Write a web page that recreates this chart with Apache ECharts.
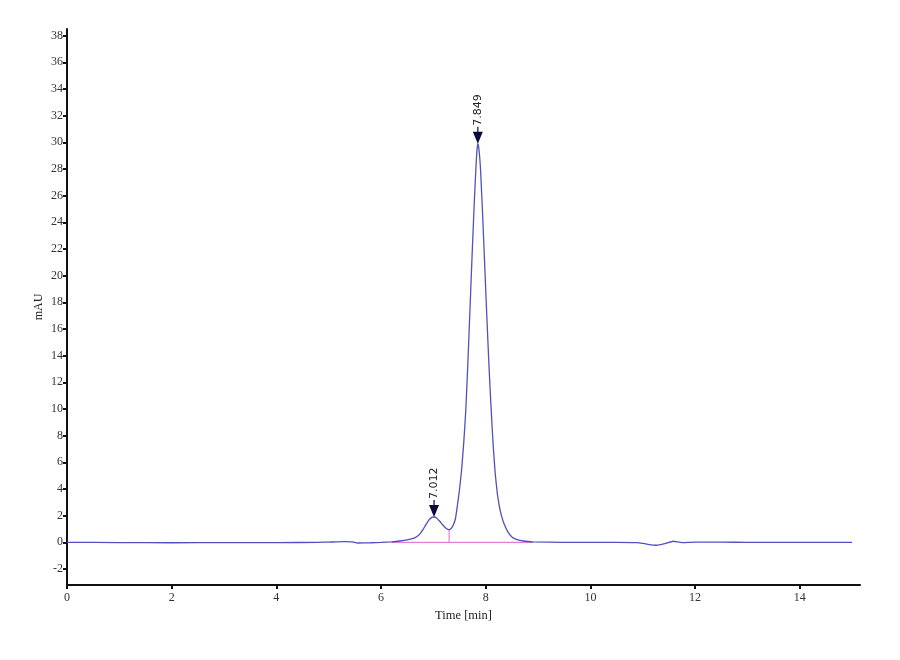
<!DOCTYPE html>
<html>
<head>
<meta charset="utf-8">
<script src="https://cdn.jsdelivr.net/npm/echarts@6/dist/echarts.min.js"></script>
<style>
  html, body { margin: 0; padding: 0; background: #fff; }
  #chart { width: 900px; height: 660px; }
</style>
</head>
<body>
<div id="chart"></div>
<script>
// chromatogram
var times = [0, 1, 2, 3, 4, 4.8, 5.0, 5.3, 5.45, 5.55, 5.8, 6.0, 6.2, 6.36, 6.5, 6.6,
    6.68, 6.74, 6.8, 6.86, 6.92, 6.97, 7.012, 7.06, 7.12, 7.18, 7.24, 7.30,
    7.34, 7.38, 7.42, 7.46, 7.50, 7.54, 7.58, 7.62, 7.66, 7.70, 7.74, 7.78, 7.81, 7.83,
    7.849, 7.87, 7.90, 7.94, 7.98, 8.02, 8.06, 8.10, 8.14, 8.18, 8.22, 8.26, 8.30,
    8.35, 8.42, 8.50, 8.60, 8.72, 8.9, 9.5,
    10, 10.5, 10.9, 11.0, 11.1, 11.26, 11.42, 11.58, 11.75, 12.0, 12.5, 13, 14, 15];
var signal = [0, -0.02, -0.03, -0.02, -0.02, 0, 0.02, 0.05, 0.03, -0.05, -0.03, 0, 0.04, 0.1, 0.18, 0.27,
    0.42, 0.62, 0.95, 1.35, 1.7, 1.87, 1.9, 1.82, 1.58, 1.3, 1.06, 0.95,
    1.05, 1.3, 1.75, 2.8, 4.0, 5.5, 7.5, 10.0, 13.6, 17.6, 21.6, 25.4, 27.9, 29.3,
    29.9, 29.5, 28.0, 24.6, 20.8, 17.0, 13.4, 10.2, 7.4, 5.2, 3.7, 2.7, 2.0,
    1.4, 0.8, 0.4, 0.2, 0.1, 0.04, 0,
    0, 0, -0.02, -0.08, -0.15, -0.22, -0.1, 0.08, -0.02, 0.02, 0.01, 0, -0.01, -0.01];

// integration baseline and drop line
var baseTimes = [6.2, 8.9];
var baseValues = [0, 0];
var dropTimes = [7.30, 7.30];
var dropValues = [0, 0.95];

// peak marks
var peakTimes = [7.012, 7.849];
var peakHeights = [1.9, 29.9];
var peakLabels = ['7.012', '7.849'];

var xTicks = [0, 2, 4, 6, 8, 10, 12, 14];
var yTicks = [-2, 0, 2, 4, 6, 8, 10, 12, 14, 16, 18, 20, 22, 24, 26, 28, 30, 32, 34, 36, 38];

function pairs(xs, ys) {
    var out = [];
    for (var i = 0; i < xs.length; i++) {
        out.push([xs[i], ys[i]]);
    }
    return out;
}

var peakMarks = [];
for (var i = 0; i < peakTimes.length; i++) {
    peakMarks.push({ coord: [peakTimes[i], peakHeights[i]], value: peakLabels[i] });
}

var serif = 'Liberation Serif';
var chart = echarts.init(document.getElementById('chart'));

var option = {
    backgroundColor: '#fff',
    animation: false,
    grid: { left: 67, right: 40, top: 29, bottom: 75 },
    xAxis: {
        type: 'value',
        min: 0,
        max: 15.15,
        name: 'Time [min]',
        nameLocation: 'middle',
        nameGap: 22,
        nameTextStyle: { fontFamily: serif, fontSize: 12.5, color: '#222' },
        axisLine: { onZero: false, lineStyle: { color: '#111', width: 2 } },
        axisTick: { customValues: xTicks, length: 4, lineStyle: { color: '#111', width: 2 } },
        axisLabel: { customValues: xTicks, fontFamily: serif, fontSize: 12, color: '#333', margin: 7 },
        splitLine: { show: false }
    },
    yAxis: {
        type: 'value',
        min: -3.2,
        max: 38.5,
        name: 'mAU',
        nameLocation: 'middle',
        nameGap: 22,
        nameMoveOverlap: false,
        nameTextStyle: { fontFamily: serif, fontSize: 12, color: '#222' },
        axisLine: { show: true, onZero: false, lineStyle: { color: '#111', width: 2 } },
        axisTick: { show: true, customValues: yTicks, length: 4, lineStyle: { color: '#111', width: 2 } },
        axisLabel: { customValues: yTicks, fontFamily: serif, fontSize: 12, color: '#333', margin: 4 },
        splitLine: { show: false }
    },
    series: [
        {
            name: 'baseline',
            type: 'line',
            data: pairs(baseTimes, baseValues),
            showSymbol: false,
            lineStyle: { color: '#e080d4', width: 1.2 },
            z: 1
        },
        {
            name: 'drop',
            type: 'line',
            data: pairs(dropTimes, dropValues),
            showSymbol: false,
            lineStyle: { color: '#e080d4', width: 1.2 },
            z: 1
        },
        {
            name: 'signal',
            type: 'line',
            data: pairs(times, signal),
            smooth: 0.15,
            showSymbol: false,
            lineStyle: { color: '#5050c2', width: 1.3 },
            z: 3,
            markPoint: {
                symbol: 'path://M4.4,0 L5.6,0 L5.6,5 L10,5 L5,17 L0,5 L4.4,5 Z',
                symbolSize: [10, 17],
                symbolOffset: [0, '-50%'],
                itemStyle: { color: '#0b0b3a' },
                label: {
                    show: true,
                    position: 'top',
                    distance: 1,
                    rotate: 90,
                    align: 'left',
                    verticalAlign: 'middle',
                    fontFamily: 'DejaVu Sans',
                    fontSize: 11,
                    color: '#222',
                    formatter: function (p) { return p.value; }
                },
                data: peakMarks
            }
        }
    ]
};

chart.setOption(option);
</script>
</body>
</html>
